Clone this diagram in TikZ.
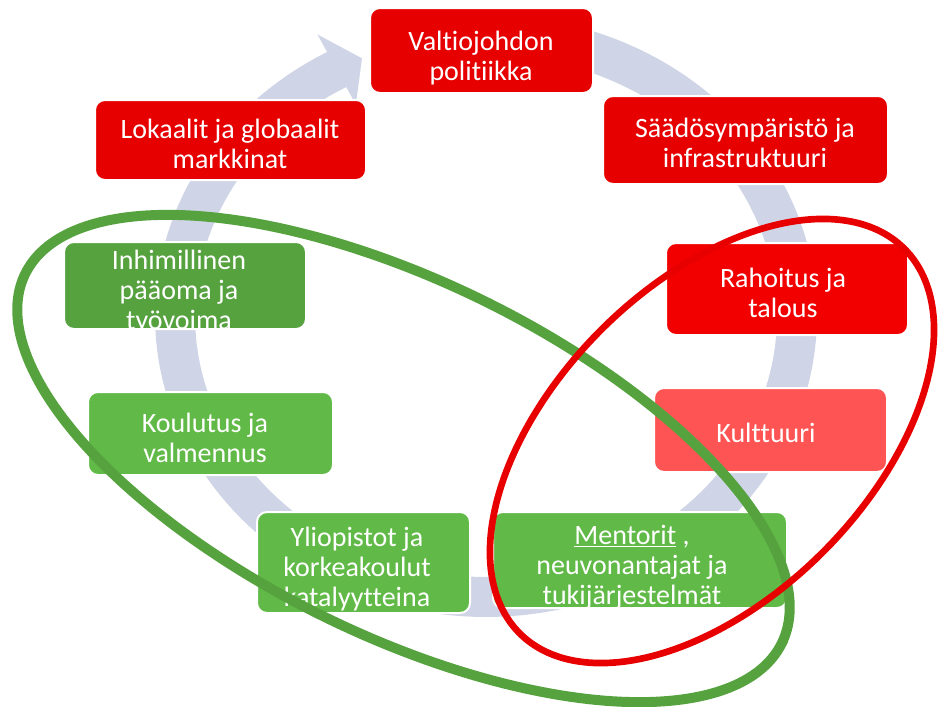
\documentclass[tikz,border=0pt]{standalone}
\usepackage{fontspec}
\setmainfont{Carlito}[Ligatures={NoCommon}]
\definecolor{bandc}{HTML}{CFD5E6}
\definecolor{redA}{HTML}{E60000}
\definecolor{redB}{HTML}{F20000}
\definecolor{redL}{HTML}{FF5454}
\definecolor{grnD}{HTML}{55A23F}
\definecolor{grnL}{HTML}{61BA47}
\definecolor{ringG}{HTML}{55A23F}
\definecolor{ringR}{HTML}{E80000}
\tikzset{
  box/.style={rounded corners=7.5pt, draw=white, line width=1.5pt},
  lbl/.style={text=white, align=center, inner sep=0pt, font=\fontsize{21}{22.5}\selectfont},
  greenring/.style={draw=ringG, line width=7.5pt},
  redring/.style={draw=ringR, line width=5pt},
}
\begin{document}
\begin{tikzpicture}[x=0.75pt,y=-0.75pt]
\useasboundingbox (0,0) rectangle (940,707);
% cycle band with arrow head
\fill[bandc] plot[domain=285:601.3, samples=160] ({486+331*cos(\x)},{316+301*sin(\x)})
  -- ({486+351*cos(601.3)},{316+321*sin(601.3)})
  -- ({486+311*cos(606.5)},{316+281*sin(606.5)})
  -- ({486+271*cos(601.3)},{316+241*sin(601.3)})
  -- plot[domain=601.3:285, samples=160] ({486+291*cos(\x)},{316+261*sin(\x)}) -- cycle;
% boxes
\draw[box, fill=redA] (370,8) rectangle (593,93);
\draw[box, fill=redA] (95,100) rectangle (366,180);
\draw[box, fill=redA] (603,96) rectangle (888,184);
\draw[box, fill=redB] (666,243) rectangle (908,335);
\draw[box, fill=redL] (654,388) rectangle (887,472);
\draw[box, fill=grnL] (493,512) rectangle (787,608);
\draw[box, fill=grnL] (257,512) rectangle (470,613);
\draw[box, fill=grnL] (88,392) rectangle (333,475);
\draw[box, fill=grnD] (64,242) rectangle (306,329);
% labels
\node[lbl] (valt) at (481,59) {\strut Valtiojohdon\\\strut politiikka};
\node[lbl] (lok) at (230,147.5) {\strut Lokaalit ja globaalit\\\strut markkinat};
\node[lbl] (saad) at (745,146.5) {\strut Säädösympäristö ja\\\strut infrastruktuuri};
\node[lbl] (raha) at (783,296.5) {\strut Rahoitus ja\\\strut talous};
\node[lbl] (kult) at (766,436.5) {\strut Kulttuuri};
\node[lbl] (ment) at (632,568.5) {\strut\underline{Mentorit} ,\\\strut neuvonantajat ja\\\strut tukijärjestelmät};
\node[lbl] (yli) at (357,570.5) {\strut Yliopistot ja\\\strut korkeakoulut\\\strut katalyytteina};
\node[lbl] (kou) at (205,441.5) {\strut Koulutus ja\\\strut valmennus};
\node[lbl] (inh) at (179,293.5) {\strut Inhimillinen\\\strut pääoma ja\\\strut työvoima};
% rings
\draw[greenring] plot[domain=0:360, samples=240]
  ({403.5+421*cos(\x)*cos(26)-177*sin(\x)*sin(26)},{458.5+421*cos(\x)*sin(26)+177*sin(\x)*cos(26)}) -- cycle;
\draw[redring] plot[domain=0:360, samples=240]
  ({712+272*cos(\x)*cos(-45)-157*sin(\x)*sin(-45)},{441+272*cos(\x)*sin(-45)+157*sin(\x)*cos(-45)}) -- cycle;
\end{tikzpicture}
\end{document}
